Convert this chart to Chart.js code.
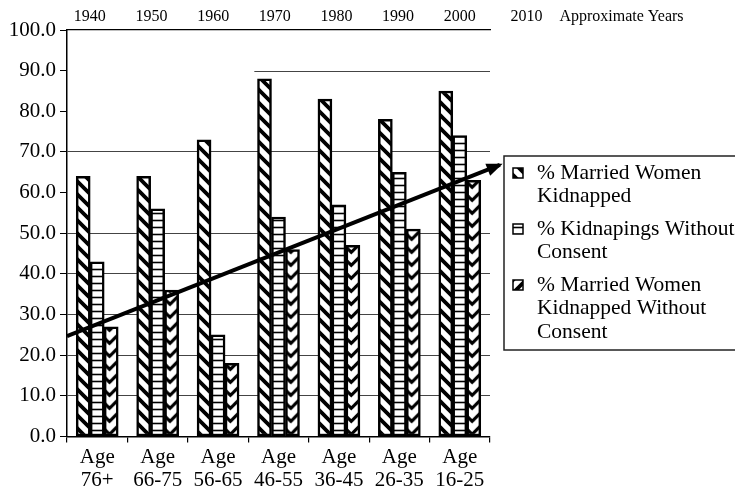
<!DOCTYPE html>
<html>
<head>
<meta charset="utf-8">
<script src="https://cdn.jsdelivr.net/npm/chart.js@4.4.1/dist/chart.umd.min.js"></script>
<style>
  html, body { margin: 0; padding: 0; background: #fff; }
  #wrap { width: 735px; height: 490px; }
</style>
</head>
<body>
<div id="wrap"><canvas id="c"></canvas></div>
<script>
const ageGroups = [['Age', '76+'], ['Age', '66-75'], ['Age', '56-65'], ['Age', '46-55'], ['Age', '36-45'], ['Age', '26-35'], ['Age', '16-25']];
const marriedKidnapped = [64, 64, 73, 88, 83, 78, 85];
const kidnapNoConsent = [43, 56, 25, 54, 57, 65, 74];
const marriedNoConsent = [27, 36, 18, 46, 47, 51, 63];
const yearTicks = [1940, 1950, 1960, 1970, 1980, 1990, 2000];
const extraYear = 2010;
const yearTitle = 'Approximate Years';
// trend arrow, in (year, percent)
const trendPoints = [{ x: 1936.3, y: 24.7 }, { x: 2006.5, y: 66.8 }];
const seriesLabels = [
  ['% Married Women', 'Kidnapped'],
  ['% Kidnapings Without', 'Consent'],
  ['% Married Women', 'Kidnapped Without', 'Consent']
];
const gridLevels = [10, 20, 30, 40, 50, 70];
const partialGridLevel = 90;

const SERIF = "'Liberation Serif', 'Times New Roman', serif";
const BAR_W = 14;

const canvas = document.getElementById('c');
const ctx = canvas.getContext('2d');

function tile(w, h, draw) {
  const t = document.createElement('canvas');
  t.width = w;
  t.height = h;
  const g = t.getContext('2d');
  g.fillStyle = '#fff';
  g.fillRect(0, 0, w, h);
  g.strokeStyle = '#000';
  draw(g, w, h);
  return t;
}

// "\" stripes
const backTile = tile(13, 13, (g, w, h) => {
  g.lineWidth = 3.8;
  g.beginPath();
  for (const o of [-w, 0, w]) {
    g.moveTo(o - 2, -2);
    g.lineTo(o + w + 2, h + 2);
  }
  g.stroke();
});
// "/" stripes (legend swatch)
const fwdTile = tile(13, 13, (g, w, h) => {
  g.lineWidth = 3.8;
  g.beginPath();
  for (const o of [-w, 0, w]) {
    g.moveTo(o - 2, h + 2);
    g.lineTo(o + w + 2, -2);
  }
  g.stroke();
});
// horizontal lines
const horizTile = tile(4, 7, (g, w, h) => {
  g.lineWidth = 1.6;
  g.beginPath();
  g.moveTo(0, 3.5);
  g.lineTo(w, 3.5);
  g.stroke();
});

const backPattern = ctx.createPattern(backTile, 'repeat');
const fwdPattern = ctx.createPattern(fwdTile, 'repeat');
const horizPattern = ctx.createPattern(horizTile, 'repeat');

// chevron pattern, aligned to each bar of the third series
const chevronTile = tile(BAR_W, 13, (g, tw, th) => {
  const vx = tw * 0.38;
  g.lineWidth = 3.2;
  g.beginPath();
  for (const o of [-th, 0, th]) {
    g.moveTo(-1, o - 1);
    g.lineTo(vx, o + vx);
    g.lineTo(tw + 1, o + vx - (tw - vx) - 1);
  }
  g.stroke();
});
function chevronFor(c) {
  if (c.type !== 'data') return '#fff';
  const xs = c.chart.scales.x;
  if (!xs || !xs.width) return '#fff';
  const left = xs.getPixelForValue(c.dataIndex) + 0.5 * BAR_W;
  const p = ctx.createPattern(chevronTile, 'repeat');
  p.setTransform(new DOMMatrix().translateSelf(left, 0));
  return p;
}

const extras = {
  id: 'extras',
  beforeDatasetsDraw(chart) {
    const { ctx: g, chartArea: a, scales } = chart;
    const y = Math.round(scales.y.getPixelForValue(partialGridLevel)) + 0.5;
    g.save();
    g.strokeStyle = '#444';
    g.lineWidth = 1;
    g.beginPath();
    g.moveTo(scales.x.getPixelForValue(2.6), y);
    g.lineTo(a.right, y);
    g.stroke();
    g.restore();
  },
  afterDatasetsDraw(chart) {
    // trend arrow through the year axis and the percent axis
    const { years, y } = chart.scales;
    const pts = trendPoints.map(p => ({ x: years.getPixelForValue(p.x), y: y.getPixelForValue(p.y) }));
    const g = chart.ctx;
    g.save();
    g.strokeStyle = '#000';
    g.lineWidth = 4;
    g.beginPath();
    pts.forEach((p, i) => (i ? g.lineTo(p.x, p.y) : g.moveTo(p.x, p.y)));
    g.stroke();
    const p0 = pts[pts.length - 2];
    const p1 = pts[pts.length - 1];
    g.translate(p1.x, p1.y);
    g.rotate(Math.atan2(p1.y - p0.y, p1.x - p0.x));
    g.fillStyle = '#000';
    g.beginPath();
    g.moveTo(3, 0);
    g.lineTo(-13, -6.5);
    g.lineTo(-13, 6.5);
    g.closePath();
    g.fill();
    g.restore();
  },
  afterDraw(chart) {
    const g = chart.ctx;
    const a = chart.chartArea;
    const top = chart.scales.years;
    g.save();
    // extra year + axis title
    g.fillStyle = '#000';
    g.font = '16px ' + SERIF;
    g.textBaseline = 'middle';
    g.textAlign = 'center';
    const xe = top.getPixelForValue(extraYear) + 5;
    g.fillText(String(extraYear), xe, 17);
    g.textAlign = 'left';
    g.fillText(yearTitle, xe + 33, 17);

    // legend
    const lx = a.right + 14;
    const ly = 156;
    g.strokeStyle = '#222';
    g.lineWidth = 1.5;
    g.strokeRect(lx, ly, 260, 194);
    const fills = [backPattern, horizPattern, fwdPattern];
    g.font = '21.5px ' + SERIF;
    g.textBaseline = 'middle';
    let yy = ly + 17;
    seriesLabels.forEach((lines, i) => {
      g.fillStyle = fills[i];
      g.fillRect(lx + 9, yy - 5, 10, 10);
      g.lineWidth = 1.5;
      g.strokeStyle = '#000';
      g.strokeRect(lx + 9, yy - 5, 10, 10);
      g.fillStyle = '#000';
      lines.forEach((t, k) => g.fillText(t, lx + 33, yy + k * 23.5));
      yy += lines.length * 23.5 + 9;
    });
    g.restore();
  }
};

const barStyle = {
  borderColor: '#000',
  borderWidth: 2.5,
  borderSkipped: false,
  barThickness: BAR_W
};

new Chart(ctx, {
  type: 'bar',
  data: {
    labels: ageGroups,
    datasets: [
      Object.assign({ label: seriesLabels[0].join(' '), data: marriedKidnapped, backgroundColor: backPattern }, barStyle),
      Object.assign({ label: seriesLabels[1].join(' '), data: kidnapNoConsent, backgroundColor: horizPattern }, barStyle),
      Object.assign({ label: seriesLabels[2].join(' '), data: marriedNoConsent, backgroundColor: chevronFor }, barStyle)
    ]
  },
  options: {
    responsive: true,
    maintainAspectRatio: false,
    animation: false,
    events: [],
    layout: { padding: { left: 0, right: 245, top: 0, bottom: 0 } },
    plugins: {
      legend: { display: false },
      tooltip: { enabled: false }
    },
    scales: {
      x: {
        type: 'category',
        position: 'bottom',
        offset: true,
        grid: { drawOnChartArea: false, color: '#000', tickLength: 6, lineWidth: 1.2 },
        border: { color: '#000', width: 1.5 },
        ticks: {
          color: '#000',
          font: { family: SERIF, size: 21, lineHeight: 1.12 },
          padding: 3,
          maxRotation: 0,
          autoSkip: false
        },
        afterFit(ax) { ax.height = 53.5; }
      },
      years: {
        type: 'linear',
        position: 'top',
        min: 1936.3,
        max: 2004.9,
        offset: false,
        afterBuildTicks(ax) { ax.ticks = yearTicks.map(v => ({ value: v })); },
        grid: { offset: false, drawOnChartArea: false, drawTicks: false },
        border: { color: '#000', width: 1.3 },
        ticks: {
          color: '#000',
          font: { family: SERIF, size: 16 },
          padding: 4,
          callback: v => String(v)
        },
        afterFit(ax) { ax.height = 30; }
      },
      y: {
        min: 0,
        max: 100,
        ticks: {
          stepSize: 10,
          color: '#000',
          font: { family: SERIF, size: 21 },
          padding: 4,
          callback: v => Number(v).toFixed(1)
        },
        grid: {
          color: c => gridLevels.includes(c.tick && c.tick.value) ? '#444' : 'rgba(0,0,0,0)',
          tickColor: '#000',
          tickLength: 7,
          lineWidth: 1
        },
        border: { color: '#000', width: 1.5 },
        afterFit(ax) { ax.width = 67; }
      }
    }
  },
  plugins: [extras]
});
</script>
</body>
</html>
